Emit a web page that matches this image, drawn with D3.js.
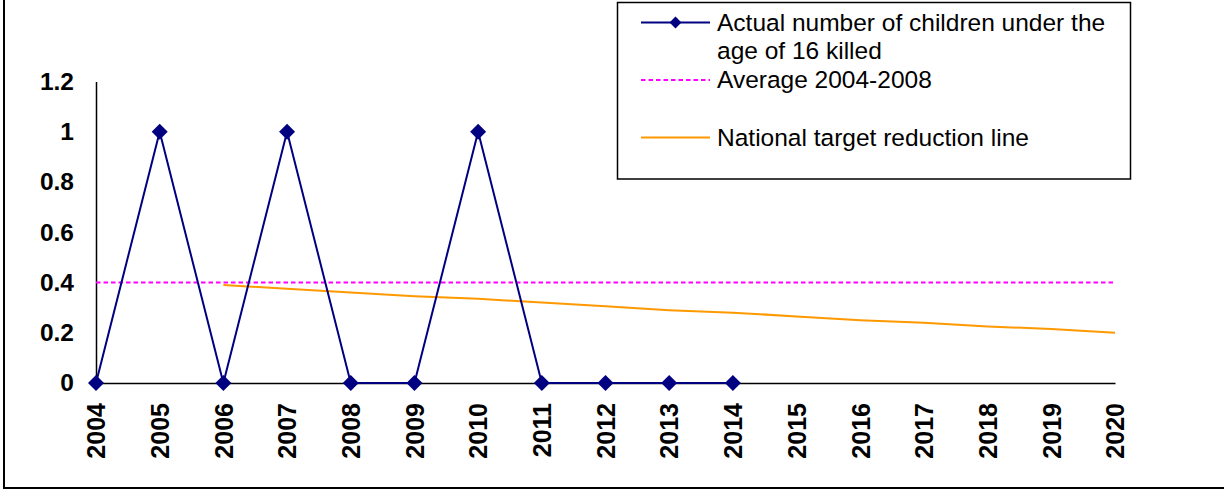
<!DOCTYPE html>
<html lang="en">
<head>
    <meta charset="UTF-8">
    <title>Children under 16 killed</title>
    <script src="https://d3js.org/d3.v7.min.js"></script>
    <style>
        body { margin: 0; background: #fff; }
        svg text { font-family: Arial, "Liberation Sans", sans-serif; }
    </style>
</head>
<body>
    <svg id="chart" width="1224" height="496"></svg>

    <script>
        // Data
        const years = ["2004", "2005", "2006", "2007", "2008", "2009", "2010", "2011", "2012",
                       "2013", "2014", "2015", "2016", "2017", "2018", "2019", "2020"];
        const actualYears = ["2004", "2005", "2006", "2007", "2008", "2009", "2010", "2011", "2012", "2013", "2014"];
        const actualValues = [0, 1, 0, 1, 0, 0, 1, 0, 0, 0, 0];
        const averageValue = 0.4; // Average 2004-2008
        const targetYears = ["2006", "2007", "2008", "2009", "2010", "2011", "2012", "2013",
                             "2014", "2015", "2016", "2017", "2018", "2019", "2020"];
        const targetValues = [0.39, 0.375, 0.36, 0.345, 0.335, 0.32, 0.305, 0.29,
                              0.28, 0.265, 0.25, 0.24, 0.225, 0.215, 0.2];
        const yTicks = [0, 0.2, 0.4, 0.6, 0.8, 1, 1.2];
        const legendLabels = [
            ["Actual number of children under the", "age of 16 killed"],
            ["Average 2004-2008"],
            ["National target reduction line"]
        ];

        const svg = d3.select("#chart");

        // outer frame (top and right edges fall outside the picture)
        svg.append("rect")
            .attr("x", 4).attr("y", -10)
            .attr("width", 1250).attr("height", 498)
            .attr("fill", "none")
            .attr("stroke", "#000")
            .attr("stroke-width", 2);

        const x = d3.scalePoint()
            .domain(years)
            .range([96, 1115]);

        const y = d3.scaleLinear()
            .domain([0, 1.2])
            .range([383, 81.5]);

        // y axis
        const yAxis = svg.append("g")
            .attr("transform", `translate(${x.range()[0]},0)`)
            .call(d3.axisLeft(y).tickValues(yTicks).tickSize(0).tickPadding(22)
                .tickFormat(d => d3.format("~g")(d)));
        yAxis.select(".domain").attr("stroke", "#000").attr("stroke-width", 1.5);
        yAxis.selectAll("text")
            .style("font-family", "Arial, 'Liberation Sans', sans-serif")
            .style("font-size", "24.5px")
            .style("font-weight", "bold")
            .attr("fill", "#000");

        // x axis
        const xAxis = svg.append("g")
            .attr("transform", `translate(0,${y(0)})`)
            .call(d3.axisBottom(x).tickSize(0).tickSizeOuter(0));
        xAxis.select(".domain").attr("stroke", "#000").attr("stroke-width", 1.5);
        xAxis.selectAll("text")
            .attr("y", 0)
            .attr("dy", "0.35em")
            .attr("transform", "translate(0,20) rotate(-90)")
            .style("text-anchor", "end")
            .style("font-family", "Arial, 'Liberation Sans', sans-serif")
            .style("font-size", "25px")
            .style("font-weight", "bold")
            .attr("fill", "#000");

        // average line
        svg.append("line")
            .attr("x1", x(years[0]))
            .attr("x2", x(years[years.length - 1]))
            .attr("y1", y(averageValue))
            .attr("y2", y(averageValue))
            .attr("stroke", "#FF00FF")
            .attr("stroke-width", 1.8)
            .attr("stroke-dasharray", "4.5,3");

        // national target line
        const line = d3.line()
            .x(d => x(d[0]))
            .y(d => y(d[1]));

        svg.append("path")
            .datum(targetYears.map((yr, i) => [yr, targetValues[i]]))
            .attr("d", line)
            .attr("fill", "none")
            .attr("stroke", "#FF9900")
            .attr("stroke-width", 2);

        // actual series
        const actual = actualYears.map((yr, i) => [yr, actualValues[i]]);
        svg.append("path")
            .datum(actual)
            .attr("d", line)
            .attr("fill", "none")
            .attr("stroke", "#000080")
            .attr("stroke-width", 2);

        const diamond = d3.symbol().type(d3.symbolDiamond2).size(162);
        svg.append("g")
            .selectAll("path")
            .data(actual)
            .join("path")
            .attr("d", diamond)
            .attr("transform", d => `translate(${x(d[0])},${y(d[1])})`)
            .attr("fill", "#000080");

        // legend
        const legend = svg.append("g");
        legend.append("rect")
            .attr("x", 617.5).attr("y", 2.5)
            .attr("width", 513).attr("height", 176.5)
            .attr("fill", "#fff")
            .attr("stroke", "#000")
            .attr("stroke-width", 1.5);

        const sx1 = 641, sx2 = 710;
        legend.append("line")
            .attr("x1", sx1).attr("x2", sx2).attr("y1", 22.5).attr("y2", 22.5)
            .attr("stroke", "#000080").attr("stroke-width", 2);
        legend.append("path")
            .attr("d", d3.symbol().type(d3.symbolDiamond2).size(90))
            .attr("transform", `translate(${(sx1 + sx2) / 2},22.5)`)
            .attr("fill", "#000080");
        legend.append("line")
            .attr("x1", sx1).attr("x2", sx2).attr("y1", 80).attr("y2", 80)
            .attr("stroke", "#FF00FF").attr("stroke-width", 1.8)
            .attr("stroke-dasharray", "4.5,3");
        legend.append("line")
            .attr("x1", sx1).attr("x2", sx2).attr("y1", 137.5).attr("y2", 137.5)
            .attr("stroke", "#FF9900").attr("stroke-width", 2);

        const legendY = [31, 88, 146];
        legendLabels.forEach((lines, i) => {
            const t = legend.append("text")
                .attr("x", 717)
                .attr("y", legendY[i])
                .style("font-size", "24.5px")
                .attr("fill", "#000");
            lines.forEach((ln, j) => {
                t.append("tspan")
                    .attr("x", 717)
                    .attr("dy", j === 0 ? 0 : 27.5)
                    .text(ln);
            });
        });
    </script>
</body>
</html>
